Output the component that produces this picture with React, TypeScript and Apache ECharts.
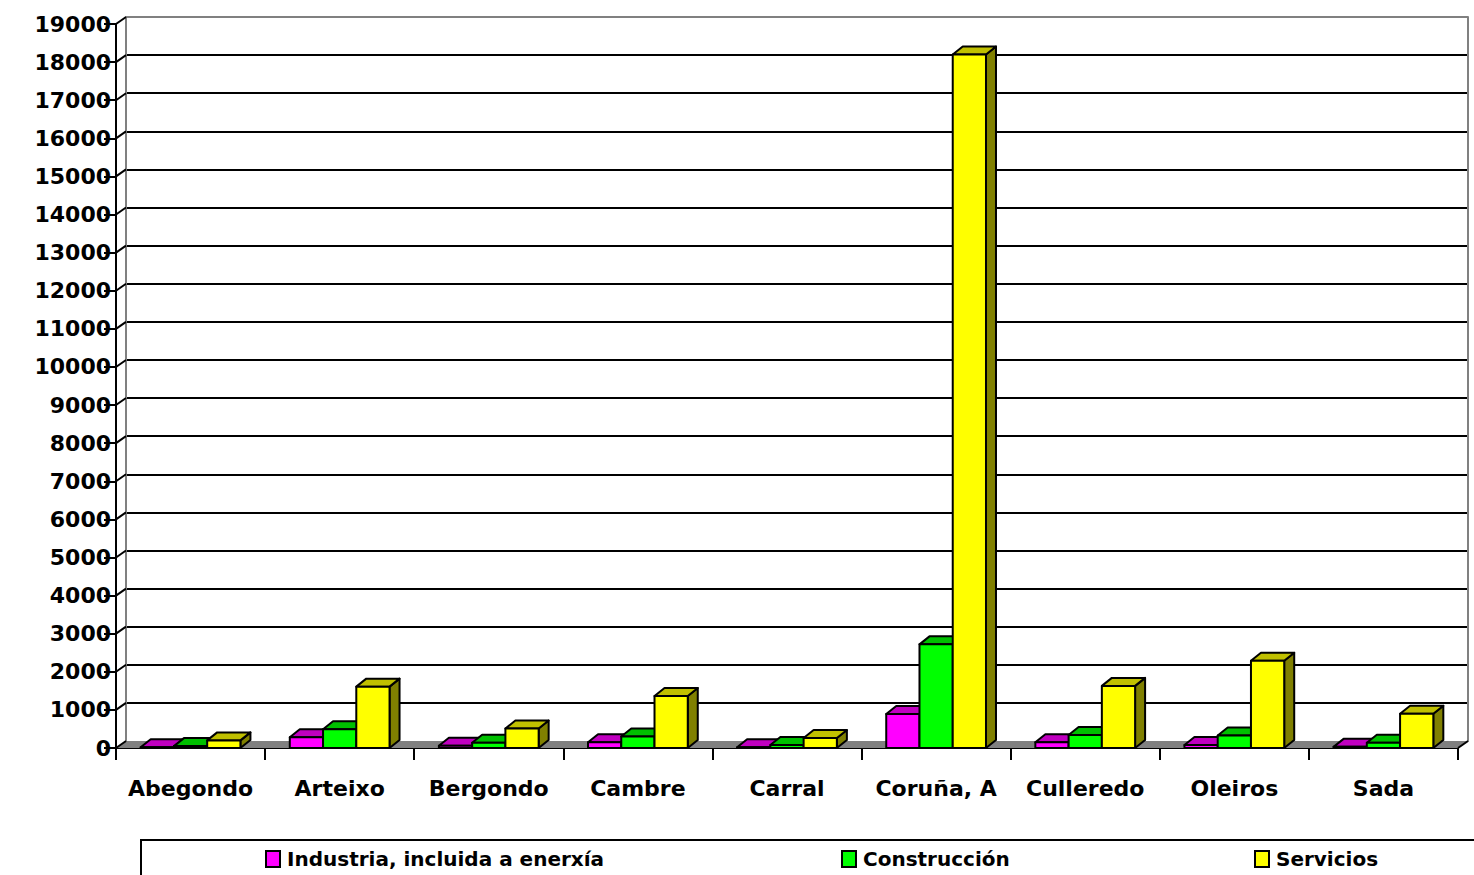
import React, { useEffect, useRef } from "react";
import * as echarts from "echarts";

const categories = ["Abegondo", "Arteixo", "Bergondo", "Cambre", "Carral", "Coruña, A", "Culleredo", "Oleiros", "Sada"];
const industria = [20, 280, 60, 150, 20, 890, 150, 80, 30];
const construccion = [50, 490, 140, 300, 80, 2720, 340, 330, 140];
const servicios = [200, 1610, 510, 1365, 260, 18200, 1630, 2290, 900];
const seriesNames = ["Industria, incluida a enerxía", "Construcción", "Servicios"];
const yTicks = [0, 1000, 2000, 3000, 4000, 5000, 6000, 7000, 8000, 9000, 10000, 11000, 12000, 13000, 14000, 15000, 16000, 17000, 18000, 19000];

const palettes = [
  { front: "#FF00FF", top: "#C000C0", side: "#800080" },
  { front: "#00FF00", top: "#00C000", side: "#008000" },
  { front: "#FFFF00", top: "#C0C000", side: "#808000" },
];

const DX = 10;
const DY = 7;
const FONT = "DejaVu Sans";

function makeBarRenderer(si: number) {
  const p = palettes[si];
  return (params: any, api: any) => {
    const cat = api.value(0);
    const v = api.value(1);
    const [cx, yt] = api.coord([cat, v]);
    const [, yb] = api.coord([cat, 0]);
    const band = api.size([1, 0])[0];
    const w = band * 0.223;
    const x0 = cx - 1.5 * w + si * w;
    const dy = 8;
    const st = { stroke: "#000", lineWidth: 2, lineJoin: "round" };
    return {
      type: "group",
      children: [
        {
          type: "polygon",
          shape: { points: [[x0 + w, yt], [x0 + w + DX, yt - dy], [x0 + w + DX, yb - dy], [x0 + w, yb]] },
          style: { fill: p.side, ...st },
        },
        {
          type: "polygon",
          shape: { points: [[x0, yt], [x0 + DX, yt - dy], [x0 + w + DX, yt - dy], [x0 + w, yt]] },
          style: { fill: p.top, ...st },
        },
        {
          type: "rect",
          shape: { x: x0, y: yt, width: w, height: Math.max(yb - yt, 0) },
          style: { fill: p.front, ...st },
        },
      ],
    };
  };
}

function renderFloor(params: any, api: any) {
  const cs = params.coordSys;
  const xl = cs.x;
  const xr = cs.x + cs.width;
  const yb = cs.y + cs.height;
  const children: any[] = [
    {
      type: "polygon",
      shape: { points: [[xl, yb], [xr, yb], [xr + DX, yb - DY], [xl + DX, yb - DY]] },
      style: { fill: "#808080", stroke: "none" },
    },
    {
      type: "line",
      shape: { x1: xr, y1: yb, x2: xr + DX, y2: yb - DY },
      style: { stroke: "#000", lineWidth: 2 },
    },
  ];
  yTicks.forEach((t) => {
    const [, y] = api.coord([0, t]);
    children.push({
      type: "line",
      shape: { x1: xl, y1: y, x2: xl + DX, y2: y - DY },
      style: { stroke: "#000", lineWidth: 2 },
    });
  });
  return { type: "group", children };
}

export default function App() {
  const ref = useRef<HTMLDivElement>(null);
  useEffect(() => {
    if (!ref.current) return;
    const chart = echarts.init(ref.current, null, { renderer: "svg" });
    const splitColors = yTicks.map((t, i) => (i === 0 ? "rgba(0,0,0,0)" : i === yTicks.length - 1 ? "#808080" : "#000"));
    const all = [industria, construccion, servicios];
    const legendDefs = [{ left: 265 }, { left: 841 }, { left: 1254 }];
    chart.setOption({
      animation: false,
      backgroundColor: "#fff",
      grid: [
        { left: 116, right: 16, top: 24, bottom: 127, containLabel: false },
        { left: 126, right: 6, top: 17, bottom: 134, containLabel: false },
      ],
      xAxis: [
        {
          type: "category",
          gridIndex: 0,
          data: categories,
          axisLine: { lineStyle: { color: "#000", width: 2 } },
          axisTick: { show: true, length: 12, interval: 0, lineStyle: { color: "#000", width: 2 } },
          axisLabel: { interval: 0, margin: 29, color: "#000", fontFamily: FONT, fontWeight: "bold", fontSize: 22 },
          splitLine: { show: false },
        },
        {
          type: "category",
          gridIndex: 1,
          data: categories,
          show: false,
        },
      ],
      yAxis: [
        {
          type: "value",
          gridIndex: 0,
          min: 0,
          max: 19000,
          interval: 1000,
          axisLine: { show: true, onZero: false, lineStyle: { color: "#000", width: 2 } },
          axisTick: { show: true, length: 12, lineStyle: { color: "#000", width: 2 } },
          axisLabel: {
            margin: 5,
            color: "#000",
            fontFamily: FONT,
            fontWeight: "bold",
            fontSize: 22,
            formatter: (v: number) => String(v),
          },
          splitLine: { show: false },
        },
        {
          type: "value",
          gridIndex: 1,
          min: 0,
          max: 19000,
          interval: 1000,
          axisLine: { show: true, onZero: false, lineStyle: { color: "#808080", width: 2 } },
          axisTick: { show: false },
          axisLabel: { show: false },
          splitLine: { show: true, lineStyle: { color: splitColors, width: 2 } },
        },
        {
          type: "value",
          gridIndex: 1,
          position: "right",
          min: 0,
          max: 19000,
          interval: 1000,
          axisLine: { show: true, onZero: false, lineStyle: { color: "#808080", width: 2 } },
          axisTick: { show: false },
          axisLabel: { show: false },
          splitLine: { show: false },
        },
      ],
      legend: legendDefs.map((d, i) => ({
        left: d.left,
        top: 849,
        padding: 0,
        icon: "rect",
        itemWidth: 14,
        itemHeight: 16,
        itemGap: 0,
        selectedMode: false,
        data: [seriesNames[i]],
        textStyle: { color: "#000", fontFamily: FONT, fontWeight: "bold", fontSize: 20, padding: [0, 0, 0, 2] },
      })),
      graphic: [
        {
          type: "rect",
          shape: { x: 141, y: 840, width: 1420, height: 100 },
          style: { fill: "none", stroke: "#000", lineWidth: 2 },
          silent: true,
        },
      ],
      series: [
        {
          type: "custom",
          name: "floor",
          xAxisIndex: 0,
          yAxisIndex: 0,
          renderItem: renderFloor,
          data: [[0, 0]],
          silent: true,
          z: 1,
        },
        ...all.map((arr, si) => ({
          type: "custom",
          name: seriesNames[si],
          xAxisIndex: 0,
          yAxisIndex: 0,
          renderItem: makeBarRenderer(si),
          encode: { x: 0, y: 1 },
          itemStyle: { color: palettes[si].front, borderColor: "#000", borderWidth: 1.5 },
          data: arr.map((v, i) => [i, v]),
          z: 2 + si,
        })),
      ],
    });
    return () => chart.dispose();
  }, []);
  return (
    <div
      ref={ref}
      style={{ position: "fixed", left: 0, top: 0, width: 1474, height: 875, background: "#fff" }}
    />
  );
}
